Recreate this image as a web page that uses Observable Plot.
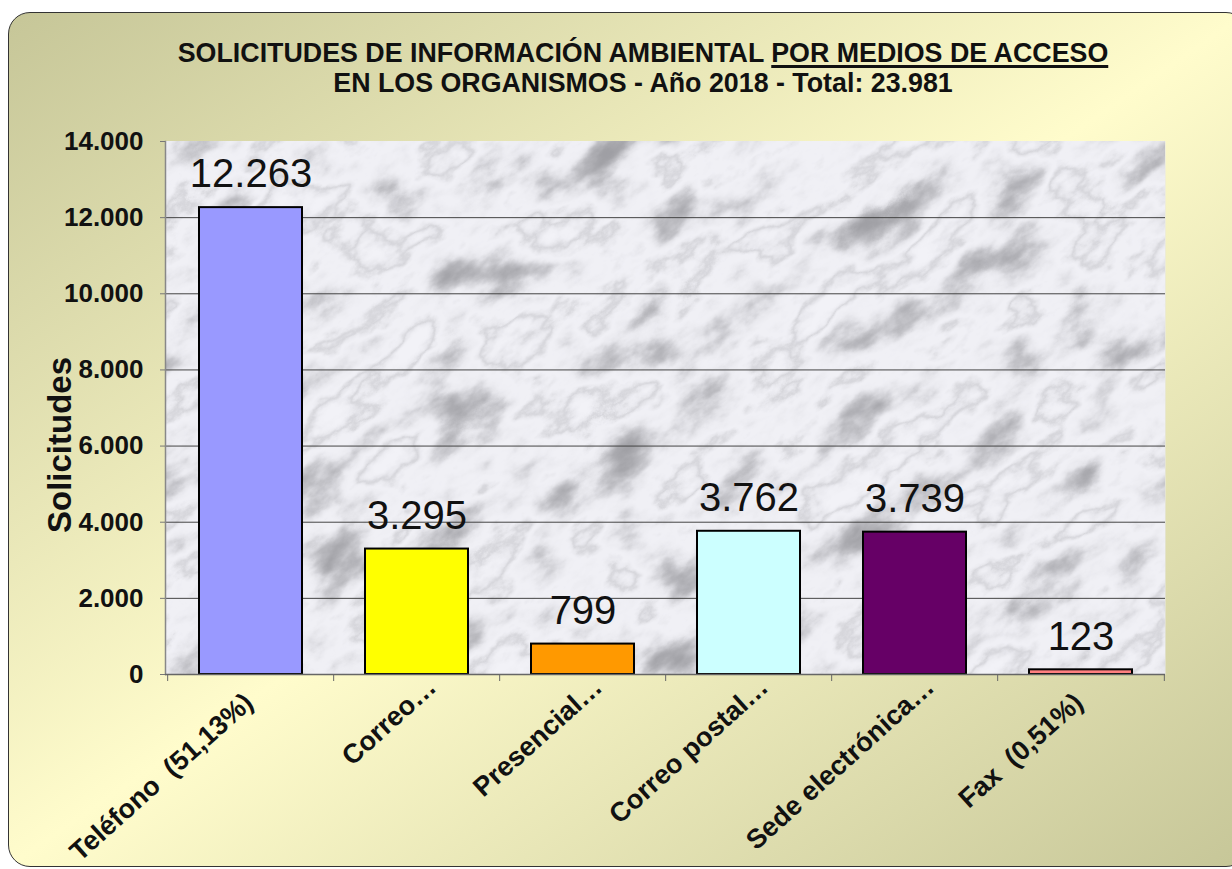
<!DOCTYPE html>
<html>
<head>
<meta charset="utf-8">
<script src="https://cdn.jsdelivr.net/npm/d3@7"></script>
<script src="https://cdn.jsdelivr.net/npm/@observablehq/plot@0.6"></script>
<style>
  html, body { margin: 0; padding: 0; width: 1232px; height: 869px; overflow: hidden; background: #ffffff; }
  body { position: relative; font-family: "Liberation Sans", Arial, sans-serif; }
  #panel {
    position: absolute; left: 8px; top: 12px; width: 1240px; height: 855px;
    border: 1.5px solid #333; border-radius: 22px; box-sizing: border-box;
    background: linear-gradient(to bottom right, #c6c698 0%, #fffccc 50%, #c6c698 100%);
  }
  #title {
    position: absolute; left: 0; top: 38px; width: 1286px; text-align: center;
    font-weight: bold; font-size: 26.8px; line-height: 30px; color: #111;
  }
  #title u { text-decoration-thickness: 2.5px; text-underline-offset: 3px; }
  #chart { position: absolute; left: 0; top: 0; }
</style>
</head>
<body>
<svg width="0" height="0" style="position:absolute">
  <defs>
    <filter id="marble" x="0" y="0" width="1" height="1" filterUnits="objectBoundingBox" color-interpolation-filters="sRGB">
      <feTurbulence type="fractalNoise" baseFrequency="0.011 0.02" numOctaves="6" seed="5" result="n"/>
      <feColorMatrix in="n" type="matrix" values="1 0 0 0 0  1 0 0 0 0  1 0 0 0 0  0 0 0 0 1" result="g"/>
      <feComponentTransfer in="g" result="m">
        <feFuncR type="table" tableValues="0.62 0.62 0.63 0.65 0.68 0.72 0.77 0.83 0.89 0.925 0.94 0.945 0.915 0.84 0.91 0.94 0.95 0.95 0.95 0.95 0.95"/>
        <feFuncG type="table" tableValues="0.62 0.62 0.63 0.65 0.68 0.72 0.77 0.83 0.89 0.925 0.94 0.945 0.915 0.84 0.91 0.94 0.95 0.95 0.95 0.95 0.95"/>
        <feFuncB type="table" tableValues="0.64 0.64 0.65 0.67 0.7 0.74 0.79 0.85 0.91 0.945 0.96 0.965 0.935 0.86 0.93 0.96 0.97 0.97 0.97 0.97 0.97"/>
      </feComponentTransfer>
      <feGaussianBlur in="m" stdDeviation="0.6"/>
    </filter>
  </defs>
</svg>
<div id="panel"></div>
<div id="title">SOLICITUDES DE INFORMACIÓN AMBIENTAL <u>POR MEDIOS DE ACCESO</u><br>EN LOS ORGANISMOS - Año 2018 - Total: 23.981</div>
<div id="chart"></div>
<script>
const categories = ["Teléfono\u00a0 (51,13%)", "Correo…", "Presencial…", "Correo postal…", "Sede electrónica…", "Fax\u00a0 (0,51%)"];
const values = [12263, 3295, 799, 3762, 3739, 123];
const barColors = ["#9999ff", "#ffff00", "#ff9900", "#ccffff", "#660066", "#ff8080"];
const yTicks = [0, 2000, 4000, 6000, 8000, 10000, 12000, 14000];
const yLabel = "Solicitudes";

const data = categories.map((c, i) => ({category: c, value: values[i]}));
const fmt = d3.formatLocale({decimal: ",", thousands: ".", grouping: [3], currency: ["", "€"]}).format(",d");
const truncated = d => d.category.endsWith("…");

const W = 1232, H = 869;
const mL = 165, mR = 67, mT = 141, mB = 195;
const step = (W - mL - mR) / categories.length;
const gridTicks = yTicks.filter(t => t > 0 && t < d3.max(yTicks));
const labelStyle = {x: "category", frameAnchor: "bottom", text: "category", rotate: -42, textAnchor: "end", lineAnchor: "middle", fontSize: 27, fontWeight: "bold", fill: "#111"};

const plot = Plot.plot({
  width: W,
  height: H,
  marginLeft: mL,
  marginRight: mR,
  marginTop: mT,
  marginBottom: mB,
  style: {background: "transparent", fontFamily: "'Liberation Sans', Arial, sans-serif", overflow: "visible"},
  x: {domain: categories, paddingInner: 0.38, paddingOuter: 0.19, label: null},
  y: {domain: [0, d3.max(yTicks)], label: null},
  color: {domain: categories, range: barColors},
  marks: [
    Plot.frame({fill: "#e8e8ec", stroke: null}),
    Plot.ruleY(gridTicks, {stroke: "#444", strokeWidth: 1}),
    Plot.frame({anchor: "left", stroke: "#888", strokeWidth: 1.5}),
    Plot.axisY({ticks: yTicks, tickFormat: fmt, tickSize: 5, tickPadding: 17, fontSize: 26, fontWeight: "bold", fill: "#111", stroke: "#777", label: null}),
    Plot.barY(data, {x: "category", y: "value", fill: "category", stroke: "#000", strokeWidth: 2}),
    Plot.ruleY([0], {stroke: "#666", strokeWidth: 1.5}),
    Plot.axisX({tickSize: 7, dx: -step / 2, tickFormat: () => "", stroke: "#666", label: null}),
    Plot.axisX([categories[categories.length - 1]], {tickSize: 7, dx: step / 2, tickFormat: () => "", stroke: "#666", label: null}),
    Plot.text(data, {...labelStyle, filter: truncated, dx: 15, dy: 8.5}),
    Plot.text(data, {...labelStyle, filter: d => !truncated(d), dx: -2, dy: 24}),
    Plot.text(data, {x: "category", y: "value", text: d => fmt(d.value), dy: -33, fontSize: 40, fill: "#111"}),
    Plot.text([yLabel], {frameAnchor: "left", text: d => d, rotate: -90, textAnchor: "middle", dx: -105, dy: 37, fontSize: 33, fontWeight: "bold", fill: "#111"})
  ]
});

document.getElementById("chart").appendChild(plot);

// marble texture on the plot background (decoration only)
const frameEl = d3.select(plot).select('[fill="#e8e8ec"]').node();
if (frameEl) {
  const fw = W - mL - mR, fh = H - mT - mB;
  const cx = mL + fw / 2, cy = mT + fh / 2, half = Math.ceil(Math.hypot(fw, fh) / 2) + 10;
  const svg = d3.select(plot);
  const defs = svg.insert("defs", ":first-child");
  defs.append("clipPath").attr("id", "plotClip")
    .append("rect").attr("x", mL).attr("y", mT).attr("width", fw).attr("height", fh);
  const g = document.createElementNS("http://www.w3.org/2000/svg", "g");
  frameEl.parentNode.insertBefore(g, frameEl.nextSibling);
  d3.select(g).attr("clip-path", "url(#plotClip)")
    .append("rect")
    .attr("x", cx - half).attr("y", cy - half).attr("width", 2 * half).attr("height", 2 * half)
    .attr("transform", `rotate(-35 ${cx} ${cy})`)
    .attr("filter", "url(#marble)");
}
</script>
</body>
</html>
